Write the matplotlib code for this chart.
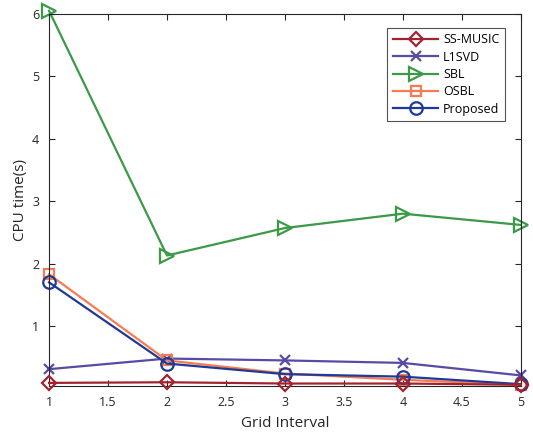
import matplotlib.pyplot as plt
import numpy as np

# Grid interval values and CPU time of each method
grid_interval = [1, 2, 3, 4, 5]
ss_music = [0.09, 0.10, 0.08, 0.08, 0.06]
l1svd = [0.31, 0.48, 0.45, 0.41, 0.21]
sbl = [6.05, 2.13, 2.57, 2.80, 2.62]
osbl = [1.83, 0.45, 0.24, 0.14, 0.06]
proposed = [1.70, 0.40, 0.23, 0.19, 0.07]

plt.rcParams['font.family'] = ['Open Sans', 'DejaVu Sans']

fig = plt.figure(figsize=(5.33, 4.33), dpi=100)
ax = fig.add_axes([0.092, 0.1085, 0.885, 0.8595])

ax.plot(grid_interval, ss_music, color='#a2232f', marker='D', markersize=7.5,
        markerfacecolor='none', markeredgewidth=1.6, linewidth=1.6,
        label='SS-MUSIC', clip_on=False, zorder=3)
ax.plot(grid_interval, l1svd, color='#5a4aa6', marker='x', markersize=7,
        markeredgewidth=1.6, linewidth=1.6, label='L1SVD', clip_on=False)
ax.plot(grid_interval, sbl, color='#3b9a48', marker='>', markersize=10,
        markerfacecolor='none', markeredgewidth=1.6, linewidth=1.6,
        label='SBL', clip_on=False)
ax.plot(grid_interval, osbl, color='#f57c52', marker='s', markersize=7,
        markerfacecolor='none', markeredgewidth=1.6, linewidth=1.6,
        label='OSBL', clip_on=False)
ax.plot(grid_interval, proposed, color='#1f3a96', marker='o', markersize=9,
        markerfacecolor='none', markeredgewidth=1.6, linewidth=1.6,
        label='Proposed', clip_on=False)

ax.set_xlim(1, 5)
ax.set_ylim(0.04, 6)
ax.set_xticks(np.arange(1, 5.01, 0.5))
ax.set_xticklabels(['1', '1.5', '2', '2.5', '3', '3.5', '4', '4.5', '5'])
ax.set_yticks([1, 2, 3, 4, 5, 6])
ax.tick_params(direction='in', top=True, right=True, labelsize=9,
               colors='#262626', length=4)
ax.tick_params(axis='x', pad=7)
ax.tick_params(axis='y', pad=7)
for s in ax.spines.values():
    s.set_color('#262626')
    s.set_linewidth(0.8)

ax.set_xlabel('Grid Interval', fontsize=11, color='#262626', labelpad=5)
ax.set_ylabel('CPU time(s)', fontsize=11, color='#262626', labelpad=3)

leg = ax.legend(loc='upper right', bbox_to_anchor=(0.98, 0.98), fontsize=9,
                frameon=True, fancybox=False, edgecolor='#262626',
                handlelength=3.6, borderpad=0.45, labelspacing=0.35,
                handletextpad=0.4)
leg.get_frame().set_linewidth(0.8)

fig.savefig('out.png', dpi=100)
